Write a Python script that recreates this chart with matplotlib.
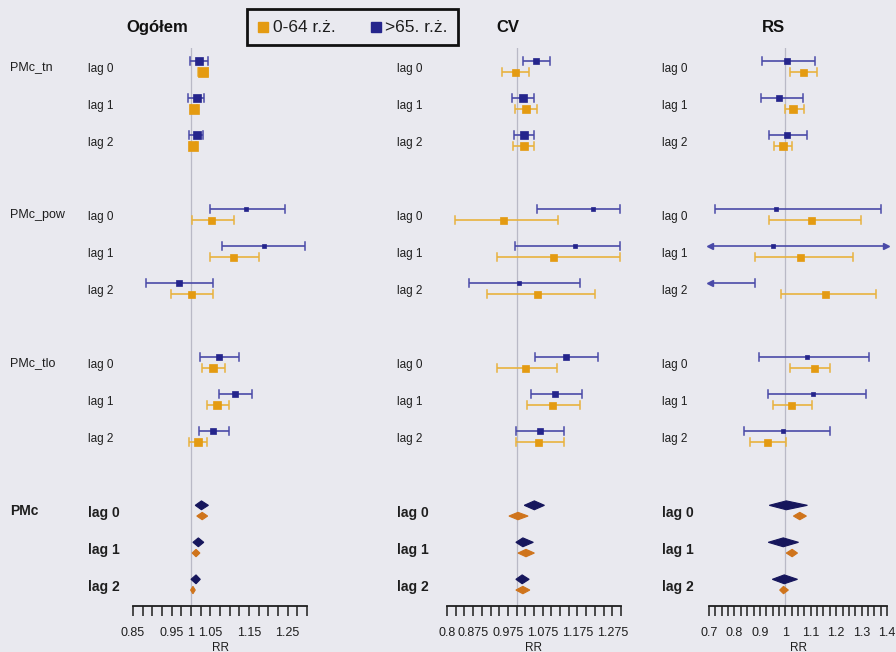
import numpy as np
import matplotlib.pyplot as plt
from matplotlib.patches import Polygon, Rectangle
from matplotlib.transforms import blended_transform_factory

plt.rcParams['font.family'] = ['Liberation Sans', 'DejaVu Sans']

BG = '#e9e9ef'
ORANGE, ORANGE_CI, ORANGE_D = '#e49b12', '#e8b23e', '#cf741c'
NAVY, NAVY_CI, NAVY_D = '#25258c', '#4a4aa8', '#16165c'
TXT = '#1e1e1e'

pollutants = ['PMc_tn', 'PMc_pow', 'PMc_tlo', 'PMc']
lags = ['lag 0', 'lag 1', 'lag 2']
panel_titles = ['Ogółem', 'CV', 'RS']
series_labels = ['0-64 r.ż.', '>65. r.ż.']

# Relative risk (estimate, lower 95% CI, upper 95% CI); rows: pollutant x lag
ogolem_0_64 = [
    (1.030, 1.019, 1.043), (1.008, 1.000, 1.016), (1.005, 0.998, 1.012),
    (1.052, 1.003, 1.110), (1.108, 1.048, 1.175), (1.000, 0.949, 1.056),
    (1.058, 1.029, 1.089), (1.068, 1.042, 1.097), (1.019, 0.995, 1.042),
    (1.029, 1.015, 1.043), (1.013, 1.003, 1.023), (1.005, 0.999, 1.011),
]
ogolem_65 = [
    (1.021, 0.998, 1.045), (1.016, 0.993, 1.034), (1.016, 0.995, 1.032),
    (1.143, 1.048, 1.242), (1.190, 1.081, 1.295), (0.969, 0.883, 1.058),
    (1.073, 1.024, 1.125), (1.115, 1.073, 1.159), (1.058, 1.021, 1.097),
    (1.027, 1.011, 1.045), (1.019, 1.005, 1.033), (1.013, 1.000, 1.024),
]
cv_0_64 = [
    (0.995, 0.957, 1.036), (1.027, 0.995, 1.059), (1.020, 0.990, 1.050),
    (0.960, 0.823, 1.118), (1.106, 0.943, 1.296), (1.059, 0.914, 1.226),
    (1.024, 0.943, 1.115), (1.103, 1.031, 1.182), (1.062, 0.998, 1.135),
    (1.004, 0.978, 1.033), (1.027, 1.004, 1.051), (1.018, 0.998, 1.038),
]
cv_65 = [
    (1.057, 1.019, 1.097), (1.018, 0.987, 1.051), (1.022, 0.993, 1.051),
    (1.219, 1.059, 1.296), (1.168, 0.995, 1.296), (1.007, 0.864, 1.182),
    (1.141, 1.054, 1.234), (1.109, 1.040, 1.188), (1.066, 0.998, 1.135),
    (1.051, 1.022, 1.080), (1.018, 0.998, 1.048), (1.016, 0.998, 1.036),
]
rs_0_64 = [
    (1.071, 1.020, 1.123), (1.032, 1.000, 1.072), (0.992, 0.957, 1.028),
    (1.102, 0.937, 1.297), (1.056, 0.882, 1.265), (1.155, 0.985, 1.357),
    (1.112, 1.020, 1.175), (1.023, 0.950, 1.107), (0.929, 0.862, 1.004),
    (1.057, 1.032, 1.083), (1.027, 1.004, 1.048), (0.993, 0.978, 1.012),
]
rs_65 = [
    (1.008, 0.909, 1.115), (0.977, 0.906, 1.068), (1.007, 0.934, 1.086),
    (0.965, 0.724, 1.376), (0.953, 0.690, 1.420), (0.620, 0.420, 0.882),
    (1.086, 0.895, 1.330), (1.108, 0.933, 1.317), (0.992, 0.838, 1.175),
    (1.004, 0.937, 1.087), (0.992, 0.933, 1.052), (0.996, 0.949, 1.048),
]

panel_data = [(ogolem_0_64, ogolem_65), (cv_0_64, cv_65), (rs_0_64, rs_65)]
x_limits = [(0.85, 1.30), (0.80, 1.30), (0.70, 1.40)]
x_labelled = [[0.85, 0.95, 1, 1.05, 1.15, 1.25],
              [0.8, 0.875, 0.975, 1.075, 1.175, 1.275],
              [0.7, 0.8, 0.9, 1, 1.1, 1.2, 1.3, 1.4]]
tick_step = 0.025

W, H = 896, 652
fig = plt.figure(figsize=(W / 100, H / 100), dpi=100)
fig.patch.set_facecolor(BG)

# panel extents in pixels (left, right) and the shared vertical range
panel_px = [(133, 307), (447, 621), (709, 887)]
top_px, bottom_px = 48, 606
row0_px, row_px = 66.5, 37.0
lab_px = [(10, 88), (None, 397), (None, 662)]
title_px = [157, 508, 773]


def row_of(i):
    g, l = divmod(i, 3)
    return g * 4 + l


def draw_interval(ax, est, lo, hi, y, c_line, c_pt, xlim, size_rng, cap=0.11):
    xmin, xmax = xlim
    a, b = max(lo, xmin), min(hi, xmax)
    ax.plot([a, b], [y, y], color=c_line, lw=1.2, solid_capstyle='butt', zorder=3)
    if lo < xmin:
        ax.plot(xmin + 0.006 * (xmax - xmin), y, marker='<', ms=5, color=c_line,
                mec=c_line, zorder=3, clip_on=False)
    else:
        ax.plot([lo, lo], [y - cap, y + cap], color=c_line, lw=1.1, zorder=3)
    if hi > xmax:
        ax.plot(xmax - 0.006 * (xmax - xmin), y, marker='>', ms=5, color=c_line,
                mec=c_line, zorder=3, clip_on=False)
    else:
        ax.plot([hi, hi], [y - cap, y + cap], color=c_line, lw=1.1, zorder=3)
    if xmin <= est <= xmax:
        # box size grows as the interval narrows (inverse-variance weight)
        rel = (hi - lo) / (xmax - xmin)
        size_px = float(np.clip(1.85 / np.sqrt(rel) + 2.15, *size_rng))
        ax.plot(est, y, marker='s', ms=size_px * 0.72, color=c_pt, mec=c_pt,
                mew=0.5, zorder=4)


def draw_diamond(ax, est, lo, hi, y, color, h=0.12):
    ax.add_patch(Polygon([(lo, y), (est, y - h), (hi, y), (est, y + h)],
                         closed=True, facecolor=color, edgecolor=color,
                         lw=0.8, zorder=4))


n_rows_span = (bottom_px - row0_px) / row_px
top_row = (top_px - row0_px) / row_px

for p, ((young, old), xlim, labelled) in enumerate(zip(panel_data, x_limits, x_labelled)):
    x0, x1 = panel_px[p]
    ax = fig.add_axes([x0 / W, 1 - bottom_px / H, (x1 - x0) / W, (bottom_px - top_px) / H])
    ax.set_facecolor('none')
    ax.set_xlim(*xlim)
    ax.set_ylim(n_rows_span, top_row)
    for s in ('top', 'left', 'right'):
        ax.spines[s].set_visible(False)
    ax.spines['bottom'].set_linewidth(1.3)
    ax.spines['bottom'].set_color(TXT)
    ax.set_yticks([])
    ax.set_xticks(labelled)
    ax.set_xticklabels([f'{v:g}' for v in labelled])
    ax.set_xticks(np.arange(xlim[0], xlim[1] + 1e-9, tick_step), minor=True)
    ax.tick_params(axis='x', which='both', direction='out', length=7, width=1.1,
                   color=TXT, labelsize=9, labelcolor=TXT, pad=8)
    ax.set_xlabel('RR', fontsize=8.5, color=TXT, labelpad=2)

    # reference line at RR = 1
    ax.axvline(1.0, color='#b9b9c6', lw=0.9, zorder=1)

    for i in range(12):
        r = row_of(i)
        yo, yy = r - 0.14, r + 0.15
        e_o, l_o, h_o = old[i]
        e_y, l_y, h_y = young[i]
        if i >= 9:
            draw_diamond(ax, e_o, l_o, h_o, yo, NAVY_D)
            draw_diamond(ax, e_y, l_y, h_y, yy, ORANGE_D, h=0.1)
        else:
            draw_interval(ax, e_o, l_o, h_o, yo, NAVY_CI, NAVY, xlim, (4.5, 8.5))
            draw_interval(ax, e_y, l_y, h_y, yy, ORANGE_CI, ORANGE, xlim, (7.0, 9.5))

    # row labels
    tr = blended_transform_factory(fig.transFigure, ax.transData)
    for i in range(12):
        r = row_of(i)
        g, l = divmod(i, 3)
        pooled = g == 3
        ax.text(lab_px[p][1] / W, r + 0.07, lags[l], transform=tr, ha='left',
                va='center', fontsize=10 if pooled else 8.5,
                fontweight='bold' if pooled else 'normal', color=TXT)
        if p == 0 and l == 0:
            ax.text(lab_px[0][0] / W, r + 0.02, pollutants[g], transform=tr,
                    ha='left', va='center', fontsize=10 if pooled else 9,
                    fontweight='bold' if pooled else 'normal', color=TXT)
    ax.text(title_px[p] / W, (28 - row0_px) / row_px, panel_titles[p], transform=tr,
            ha='center', va='center', fontsize=12, fontweight='bold', color='#111')

# legend box
ov = fig.add_axes([0, 0, 1, 1], zorder=10)
ov.set_xlim(0, W)
ov.set_ylim(H, 0)
ov.axis('off')
ov.patch.set_alpha(0)
ov.add_patch(Rectangle((247, 9), 211, 36, facecolor='none', edgecolor='#111', lw=2))
ov.add_patch(Rectangle((258, 22), 10, 10, facecolor=ORANGE, edgecolor=ORANGE))
ov.text(273, 27.5, series_labels[0], ha='left', va='center', fontsize=12.5, color=TXT)
ov.add_patch(Rectangle((371, 22), 10, 10, facecolor=NAVY, edgecolor=NAVY))
ov.text(385, 27.5, series_labels[1], ha='left', va='center', fontsize=12.5, color=TXT)

fig.savefig('out.png', dpi=100, facecolor=BG)
